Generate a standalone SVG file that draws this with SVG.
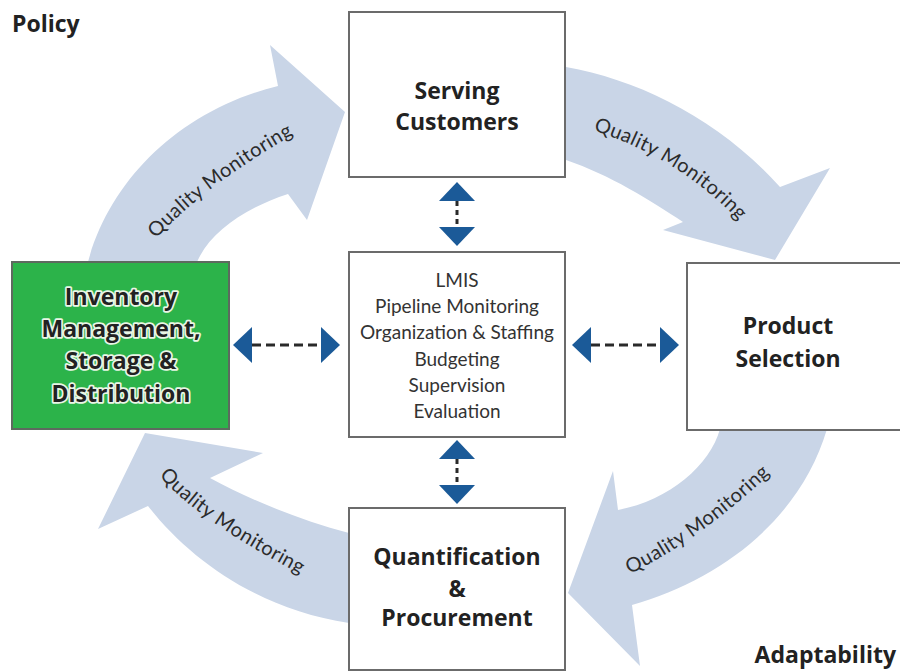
<svg xmlns="http://www.w3.org/2000/svg" width="900" height="672" viewBox="0 0 900 672">
  <style>
    .flow { fill: #c9d5e7; }
    .flowlabel { font-family: Lato, "Liberation Sans", sans-serif; font-size: 20px; fill: #2b2b2b; letter-spacing: 0.4px; }
    .box { fill: #ffffff; stroke: #6b6b6b; stroke-width: 2; }
    .green { fill: #2cb34a; stroke: #5d6a5f; stroke-width: 2; }
    .title { font-family: "Open Sans", "Liberation Sans", sans-serif; font-weight: bold; font-size: 23px; fill: #222222; text-anchor: middle; }
    .halo { stroke: #e9f6e6; stroke-width: 3.5px; paint-order: stroke; stroke-linejoin: round; }
    .list { font-family: Lato, "Liberation Sans", sans-serif; font-size: 19px; fill: #333333; text-anchor: middle; }
    .corner { font-family: "Open Sans", "Liberation Sans", sans-serif; font-weight: bold; font-size: 23px; fill: #222222; }
    .link { stroke: #2a2a2a; stroke-width: 3; fill: none; marker-start: url(#tri); marker-end: url(#tri); }
    .h { stroke-dasharray: 9 5; }
    .v { stroke-dasharray: 5 4; }
  </style>
  <defs>
    <marker id="tri" markerUnits="userSpaceOnUse" viewBox="0 0 20 36" refX="0" refY="18" markerWidth="20" markerHeight="36" orient="auto-start-reverse">
      <path d="M0,0 L19,18 L0,36 Z" fill="#1b5a98"/>
    </marker>
    <!-- baselines for the curved "Quality Monitoring" labels -->
    <path id="arcTL" d="M157,238 Q204,186 293,135"/>
    <path id="arcTR" d="M592,130 Q680,158 740,222"/>
    <path id="arcBR" d="M628,575 Q700,540 772,472"/>
    <path id="arcBL" d="M160,476 Q193,517 300,574"/>
  </defs>

  <rect width="900" height="672" fill="#ffffff"/>

  <!-- cycle arrows and the dashed two-way links to the centre box -->
  <g id="connectors">
    <path class="flow" d="M88,270 L88,262 C110,180 180,110 278,86 L270,45 L345,112 L307,220 L288,194 C245,208 210,232 197,262 L197,270 Z"/>
    <path class="flow" d="M545,66 L566,67 C640,80 720,120 780,187 L830,168 L775,260 L663,230 L683,222 C650,200 610,175 566,160 L545,160 Z"/>
    <path class="flow" d="M720,420 L720,429 C710,465 670,500 618,510 L613,471 L568,593 L640,666 L632,605 C720,580 800,520 827,429 L827,420 Z"/>
    <path class="flow" d="M370,533 L349,533 C300,520 250,500 210,478 L263,453 L145,433 L98,529 L148,506 C190,560 260,610 349,623 L370,623 Z"/>

    <text class="flowlabel"><textPath href="#arcTL" startOffset="50%" text-anchor="middle">Quality Monitoring</textPath></text>
    <text class="flowlabel"><textPath href="#arcTR" startOffset="50%" text-anchor="middle">Quality Monitoring</textPath></text>
    <text class="flowlabel"><textPath href="#arcBR" startOffset="50%" text-anchor="middle">Quality Monitoring</textPath></text>
    <text class="flowlabel"><textPath href="#arcBL" startOffset="50%" text-anchor="middle">Quality Monitoring</textPath></text>

    <line class="link v" x1="457" y1="201" x2="457" y2="227"/>
    <line class="link v" x1="457" y1="459" x2="457" y2="485"/>
    <line class="link h" x1="252" y1="345" x2="321" y2="345"/>
    <line class="link h" x1="591" y1="345" x2="660" y2="345"/>
  </g>

  <g id="serving-customers">
    <rect class="box" x="349" y="12" width="216" height="165"/>
    <text class="title" x="457" y="99">Serving</text>
    <text class="title" x="457" y="130">Customers</text>
  </g>

  <g id="management-support">
    <rect class="box" x="349" y="252" width="216" height="185"/>
    <text class="list" x="457" y="287">LMIS</text>
    <text class="list" x="457" y="313">Pipeline Monitoring</text>
    <text class="list" x="457" y="339">Organization &amp; Staffing</text>
    <text class="list" x="457" y="366">Budgeting</text>
    <text class="list" x="457" y="392">Supervision</text>
    <text class="list" x="457" y="418">Evaluation</text>
  </g>

  <g id="inventory-management">
    <rect class="green" x="12" y="262" width="217" height="167"/>
    <text class="title halo" x="121" y="305">Inventory</text>
    <text class="title halo" x="121" y="337">Management,</text>
    <text class="title halo" x="121" y="369">Storage &amp;</text>
    <text class="title halo" x="121" y="402">Distribution</text>
  </g>

  <g id="product-selection">
    <rect class="box" x="687" y="263" width="230" height="167"/>
    <text class="title" x="788" y="334">Product</text>
    <text class="title" x="788" y="367">Selection</text>
  </g>

  <g id="quantification-procurement">
    <rect class="box" x="349" y="508" width="216" height="162"/>
    <text class="title" x="457" y="565">Quantification</text>
    <text class="title" x="457" y="597">&amp;</text>
    <text class="title" x="457" y="626">Procurement</text>
  </g>

  <text class="corner" x="12" y="32">Policy</text>
  <text class="corner" x="896" y="663" text-anchor="end">Adaptability</text>
</svg>
